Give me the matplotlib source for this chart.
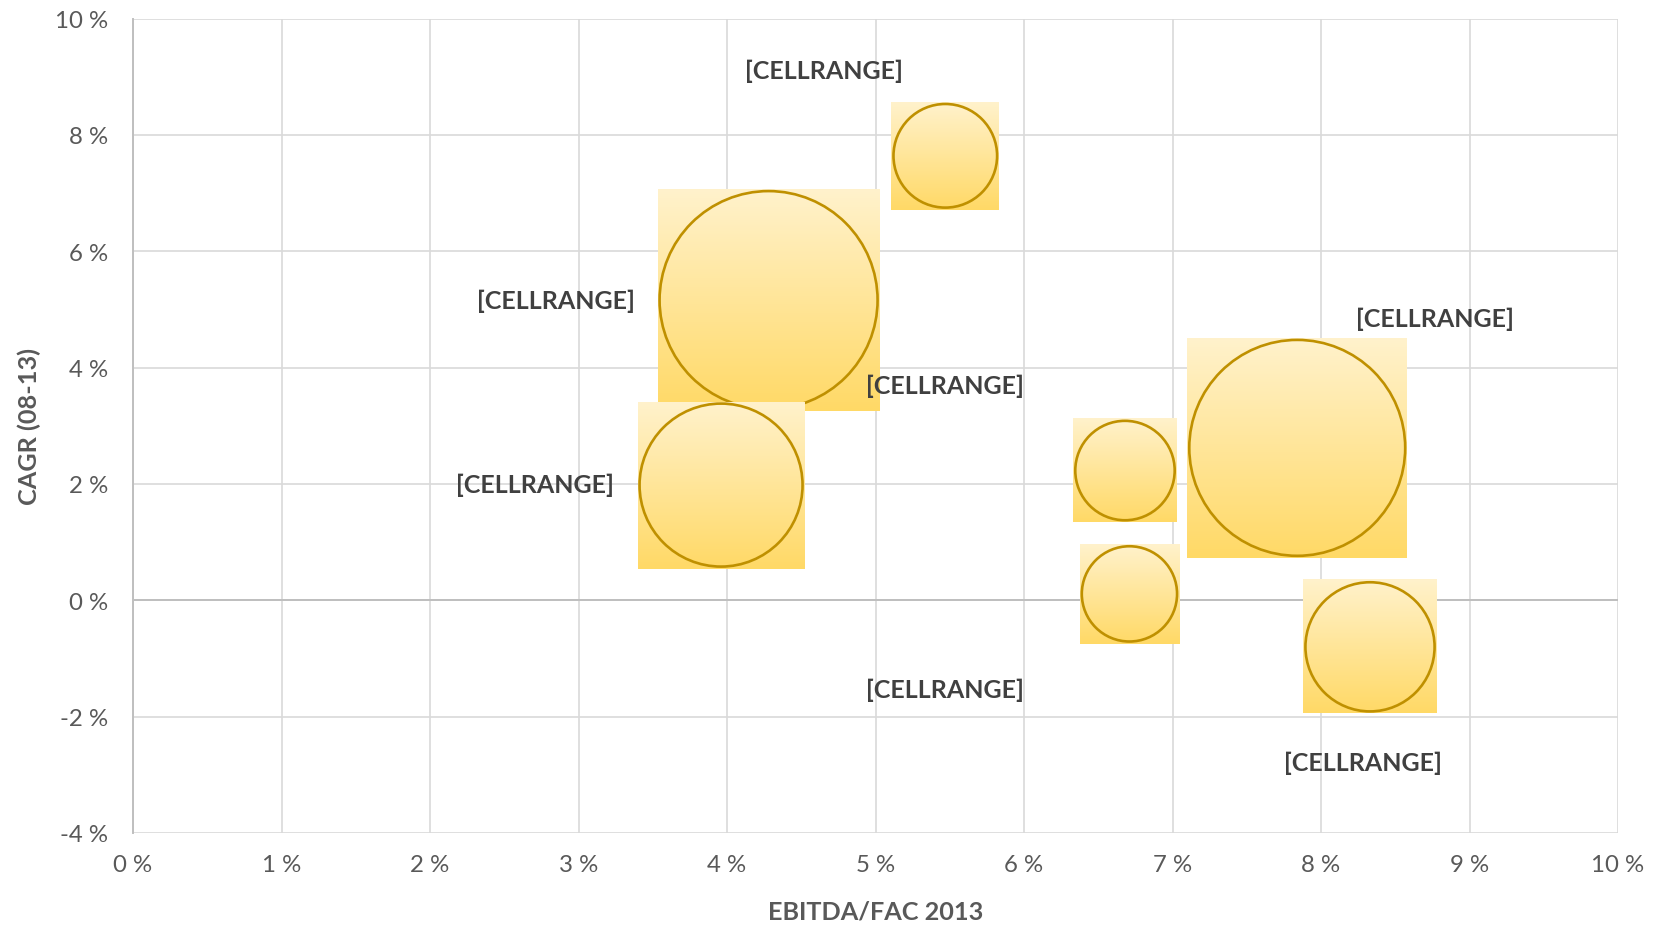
import numpy as np
import matplotlib.pyplot as plt
from matplotlib.ticker import FuncFormatter

# bubble data (x = EBITDA/FAC 2013 in %, y = CAGR 08-13 in %, size = relative bubble value)
ebitda_fac = [5.47, 4.28, 3.96, 6.68, 7.84, 6.71, 8.33]
cagr = [7.64, 5.16, 1.98, 2.23, 2.62, 0.11, -0.80]
bubble_size = [22.6, 100.0, 55.9, 20.8, 98.1, 19.1, 35.1]

# data labels (Excel placeholders) and where they sit
label_text = ["[CELLRANGE]"] * 7
label_x = [4.65, 2.85, 2.71, 5.47, 8.77, 5.47, 8.28]
label_y = [9.11, 5.15, 1.99, 3.70, 4.84, -1.53, -2.78]

W, H, DPI = 1657, 928, 100
fig = plt.figure(figsize=(W / DPI, H / DPI), dpi=DPI)
ax = fig.add_axes([133 / W, 1 - 834 / H, (1618 - 133) / W, (834 - 19.5) / H])

xmin, xmax, ymin, ymax = 0, 10, -4, 10
ax.set_xlim(xmin, xmax)
ax.set_ylim(ymin, ymax)

# pixel radius of biggest bubble; area proportional to value
r_max = 109.0
px_x = (xmax - xmin) / (1618 - 133)
px_y = (ymax - ymin) / (834 - 19.5)

grad = np.linspace(0, 1, 256).reshape(-1, 1)
top = np.array([255, 242, 204]) / 255
bot = np.array([255, 217, 102]) / 255
img = top * (1 - grad[..., None]) + bot * grad[..., None]

order = np.argsort(bubble_size)[::-1]
for z, i in enumerate(order):
    r = r_max * np.sqrt(bubble_size[i] / max(bubble_size))
    h = r + 2
    ax.imshow(img, extent=[ebitda_fac[i] - h * px_x, ebitda_fac[i] + h * px_x,
                           cagr[i] - h * px_y, cagr[i] + h * px_y],
              origin="upper", aspect="auto", zorder=3 + 2 * z, interpolation="bilinear")
    d_pt = 2 * r * 72 / DPI
    ax.scatter([ebitda_fac[i]], [cagr[i]], s=d_pt ** 2, facecolor="none",
               edgecolor="#BF9000", linewidth=1.9, zorder=4 + 2 * z)

for t, lx, ly in zip(label_text, label_x, label_y):
    ax.text(lx, ly, t, ha="center", va="center", fontsize=18, fontweight="bold",
            color="#404040", family="Lato", zorder=30)

ax.set_xticks(range(0, 11))
ax.set_yticks(range(-4, 11, 2))
fmt = FuncFormatter(lambda v, p: f"{int(v)} %")
ax.xaxis.set_major_formatter(fmt)
ax.yaxis.set_major_formatter(fmt)
ax.grid(True, color="#D9D9D9", linewidth=1.2)
ax.set_axisbelow(True)
ax.axhline(0, color="#BFBFBF", linewidth=1.4, zorder=1)
for s in ["top", "right", "bottom"]:
    ax.spines[s].set_visible(False)
ax.spines["left"].set_color("#BFBFBF")
ax.spines["left"].set_linewidth(1.4)
ax.tick_params(length=0, labelsize=17.3, labelcolor="#595959")
ax.tick_params(axis="y", pad=18)
ax.tick_params(axis="x", pad=15)
for lab in ax.get_xticklabels() + ax.get_yticklabels():
    lab.set_family("Lato")

ax.set_xlabel("EBITDA/FAC 2013", fontsize=18.2, fontweight="bold", color="#595959",
              family="Lato", labelpad=18)
ax.set_ylabel("CAGR (08-13)", fontsize=18.2, fontweight="bold", color="#595959",
              family="Lato", labelpad=10)

fig.savefig("out.png", dpi=DPI)
